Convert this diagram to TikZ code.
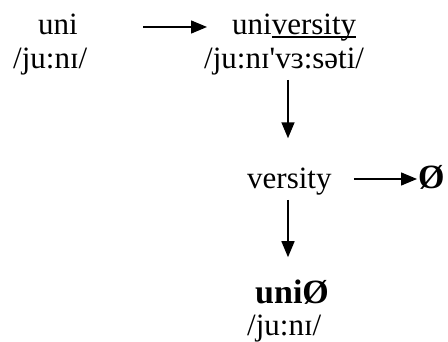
\documentclass[tikz,border=0pt]{standalone}
\usepackage{fontspec}
\setmainfont{Liberation Serif}
\usetikzlibrary{arrows.meta}
\newcommand\myul[1]{\setbox0\hbox{#1}\rlap{\rule[-0.1em]{\wd0}{0.055em}}\box0}
\tikzset{
  txt/.style={inner sep=0pt, anchor=base west, font=\fontsize{31}{35}\selectfont},
  btxt/.style={txt, font=\fontsize{34}{38}\selectfont\bfseries},
  arr/.style={line width=1.5pt, -{Triangle[length=16pt,width=13pt]}}
}
\begin{document}
\begin{tikzpicture}[x=1pt,y=-1pt]
\useasboundingbox (0,0) rectangle (448,342);
\node[txt] (uni) at (38,35) {uni};
\node[txt] (ipa1) at (13,69) {/ju:nɪ/};
\node[txt] (univ) at (232,35) {uni\myul{versity}};
\node[txt] (ipa2) at (204,69) {/ju:nɪ\textquotesingle vɜ:səti/};
\node[txt] (vers) at (247,189) {versity};
\node[btxt] (zero) at (418,189) {Ø};
\node[btxt] (unizero) at (255,304) {uniØ};
\node[txt] (ipa3) at (247,336) {/ju:nɪ/};
\coordinate (vx) at (288,0);
\coordinate (hy1) at (0,27);
\coordinate (hy2) at (0,179);
\draw[arr, shorten <=65pt, shorten >=25pt] (uni.east |- hy1) -- (univ.west |- hy1);
\draw[arr, shorten <=4pt, shorten >=30pt] (ipa2.south -| vx) -- (vers.north -| vx);
\draw[arr, shorten <=22pt, shorten >=1pt] (vers.east |- hy2) -- (zero.west |- hy2);
\draw[arr, shorten <=4pt, shorten >=23pt] (vers.south -| vx) -- (unizero.north -| vx);
\end{tikzpicture}
\end{document}
